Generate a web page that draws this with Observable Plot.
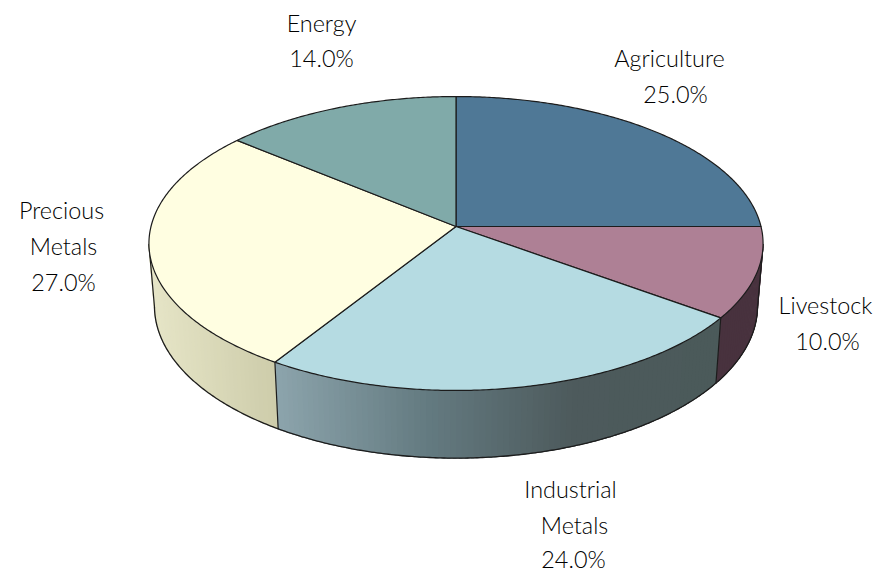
<!DOCTYPE html>
<html>
<head>
<meta charset="utf-8">
<script src="https://cdn.jsdelivr.net/npm/d3@7"></script>
<script src="https://cdn.jsdelivr.net/npm/@observablehq/plot@0.6"></script>
<style>html,body{margin:0;padding:0;background:#fff}svg{display:block}</style>
</head>
<body>
<div id="chart"></div>
<script>
// Data
const categories = ["Agriculture", "Livestock", "Industrial Metals", "Precious Metals", "Energy"];
const values = [25, 10, 24, 27, 14];
const topColors = ["#4f7896", "#ae8095", "#b5dbe2", "#fffee1", "#80aaa9"];
const wallStops = [
  ["#48323e", "#48323e"],
  ["#48323e", "#48323e"],
  ["#8ca4ac", "#647b81", "#4d5a5c", "#4b5a5a"],
  ["#e6e5c7", "#cdccaa"],
  ["#80aaa9", "#80aaa9"]
];
const labelLines = [
  [["Agriculture", 669, 59], ["25.0%", 675, 95]],
  [["Livestock", 825, 306], ["10.0%", 827, 342]],
  [["Industrial", 570, 490], ["Metals", 574, 526], ["24.0%", 573, 560]],
  [["Precious", 61, 211], ["Metals", 63, 247], ["27.0%", 63, 283]],
  [["Energy", 321, 24], ["14.0%", 321, 59]]
];

// Perspective view of the disc
const cx = 455.5, k = 0.1156;
const topRing = {R: 305, S: 145, cy: 226};
const lowRing = {R: 299.5, S: 150, cy: 288};
const project = (deg, ring) => {
  const t = deg * Math.PI / 180, u = Math.sin(t), v = Math.cos(t), w = 1 + k * v;
  return {x: cx + ring.R * u / w, y: ring.cy - ring.S * v / w};
};
const wallFrom = 97, wallTo = 263;

const total = d3.sum(values);
let acc = 0;
const slices = categories.map((name, i) => {
  const a0 = acc / total * 360; acc += values[i];
  return {name, i, a0, a1: acc / total * 360};
});
const arcDegrees = (a0, a1, step = 0.5) => {
  const out = [];
  for (let a = a0; a < a1; a += step) out.push(a);
  out.push(a1);
  return out;
};

const sectorPts = slices.flatMap(s => {
  const rim = arcDegrees(s.a0, s.a1).map(a => project(a, topRing));
  const c = {x: cx, y: topRing.cy};
  return [c, ...rim, c].map(p => ({...p, name: s.name, fill: topColors[s.i]}));
});

// Wall shading: narrow quads, coloured from the per-slice stops
const strips = slices.flatMap(s => {
  const a0 = Math.max(s.a0, wallFrom), a1 = Math.min(s.a1, wallTo);
  if (a0 >= a1) return [];
  const shade = d3.piecewise(d3.interpolateRgb, wallStops[s.i]);
  const x0 = Math.min(project(a0, lowRing).x, project(a1, lowRing).x);
  const x1 = Math.max(project(a0, lowRing).x, project(a1, lowRing).x);
  const out = [];
  for (let a = a0; a < a1; a += 1) {
    const b = Math.min(a + 1.5, a1);
    const p0 = project(a, topRing), p1 = project(b, topRing);
    const q0 = project(a, lowRing), q1 = project(b, lowRing);
    const col = shade(Math.max(0, Math.min(1, ((q0.x + q1.x) / 2 - x0) / (x1 - x0))));
    const id = s.name + a;
    out.push({id, fill: col, x: p0.x, y: p0.y}, {id, fill: col, x: p1.x, y: p1.y},
             {id, fill: col, x: q1.x, y: q1.y}, {id, fill: col, x: q0.x, y: q0.y});
  }
  return out;
});

const lowEdge = arcDegrees(wallFrom, wallTo).map(a => project(a, lowRing));
const dividers = [wallFrom, ...slices.map(s => s.a1).filter(a => a > wallFrom && a < wallTo), wallTo]
  .flatMap(a => [project(a, topRing), project(a, lowRing)].map(p => ({...p, a})));

const labels = labelLines.flatMap(lines => lines.map(([text, x, y]) => ({text, x, y})));

const plot = Plot.plot({
  width: 873,
  height: 572,
  margin: 0,
  style: {background: "#fff"},
  x: {domain: [0, 873], range: [0, 873], axis: null},
  y: {domain: [0, 572], range: [0, 572], axis: null},
  color: {type: "identity"},
  marks: [
    Plot.line(strips, {x: "x", y: "y", z: "id", fill: "fill", stroke: "fill", strokeWidth: 1, curve: "linear"}),
    Plot.line(lowEdge, {x: "x", y: "y", stroke: "#1c1c1c", strokeWidth: 1.3, curve: "linear"}),
    Plot.line(dividers, {x: "x", y: "y", z: "a", stroke: "#1c1c1c", strokeWidth: 1.2, curve: "linear"}),
    Plot.line(sectorPts, {x: "x", y: "y", z: "name", fill: "fill", stroke: "#1c1c1c", strokeWidth: 1.2, strokeLinejoin: "round", curve: "linear"}),
    Plot.text(labels, {x: "x", y: "y", text: "text", fontFamily: "Lato", fontSize: 23.4, fontWeight: 300, fill: "#000", textAnchor: "middle", lineAnchor: "middle"})
  ]
});
document.getElementById("chart").appendChild(plot);
</script>
</body>
</html>
